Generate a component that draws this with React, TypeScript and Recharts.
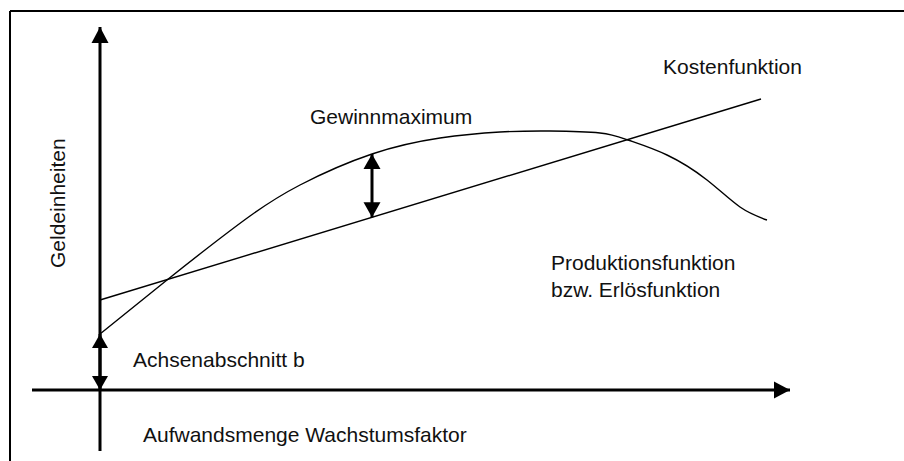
import { LineChart, Line, XAxis, YAxis, ReferenceLine, ReferenceDot } from 'recharts'

// Aufwandsmenge (x) and Geldeinheiten (y)
const menge = [0, 0.67, 1.05, 1.5, 2.0, 2.72, 3.4, 4.0, 4.5, 5.0, 5.28, 5.67, 6.07, 6.4, 6.67]
const erloes = [1.12, 2.2, 2.8, 3.48, 4.1, 4.72, 5.04, 5.16, 5.18, 5.14, 5.0, 4.7, 4.2, 3.66, 3.4]
const kostenMenge = [0, 6.61]
const kosten = [1.8, 5.82]

const xAxisRange = [-0.68, 6.9]
const yAxisRange = [-1.22, 7.26]
const gewinnIndex = 5

const labels = [
  { text: 'Kostenfunktion', x: 5.63, y: 6.32 },
  { text: 'Gewinnmaximum', x: 2.1, y: 5.32 },
  { text: 'Produktionsfunktion', x: 4.51, y: 2.4 },
  { text: 'bzw. Erlösfunktion', x: 4.51, y: 1.86 },
  { text: 'Achsenabschnitt b', x: 0.33, y: 0.46 },
  { text: 'Aufwandsmenge Wachstumsfaktor', x: 0.43, y: -1.04 },
  { text: 'Geldeinheiten', x: -0.35, y: 2.44, rotate: true }
]

const X_DOMAIN = [-1, 8.04]
const Y_DOMAIN = [-1.42, 7.8]
const FONT = '"Liberation Sans", Arial, sans-serif'

const erloesData = menge.map((x, i) => ({ x, y: erloes[i] }))
const kostenData = kostenMenge.map((x, i) => ({ x, y: kosten[i] }))

const kostenAt = (x: number) =>
  kosten[0] + ((kosten[1] - kosten[0]) * (x - kostenMenge[0])) / (kostenMenge[1] - kostenMenge[0])

function head(xt: number, yt: number, xf: number, yf: number, len: number, half: number) {
  const dx = xt - xf
  const dy = yt - yf
  const d = Math.hypot(dx, dy) || 1
  const ux = dx / d
  const uy = dy / d
  const bx = xt - ux * len
  const by = yt - uy * len
  return `${xt},${yt} ${bx - uy * half},${by + ux * half} ${bx + uy * half},${by - ux * half}`
}

function Arrow(props: any) {
  const { x1, y1, x2, y2, both, len = 16, half = 8.5, width = 3 } = props
  return (
    <g>
      <line x1={x1} y1={y1} x2={x2} y2={y2} stroke="#000" strokeWidth={width} />
      <polygon points={head(x2, y2, x1, y1, len, half)} fill="#000" />
      {both && <polygon points={head(x1, y1, x2, y2, len, half)} fill="#000" />}
    </g>
  )
}

function Frame(props: any) {
  const { x1, y1, x2, y2 } = props
  return <line x1={x1} y1={y1} x2={x2} y2={y2} stroke="#000" strokeWidth={2} />
}

export default function App() {
  const gx = menge[gewinnIndex]
  return (
    <div style={{ position: 'absolute', left: 0, top: 0, width: 904, height: 461, background: '#fff' }}>
      <LineChart width={904} height={461} margin={{ top: 0, right: 0, bottom: 0, left: 0 }}>
        <XAxis type="number" dataKey="x" domain={X_DOMAIN} allowDataOverflow hide />
        <YAxis type="number" dataKey="y" domain={Y_DOMAIN} allowDataOverflow hide />

        {/* frame */}
        <ReferenceLine
          ifOverflow="visible"
          segment={[{ x: X_DOMAIN[0] + 0.1, y: Y_DOMAIN[1] - 0.22 }, { x: X_DOMAIN[1], y: Y_DOMAIN[1] - 0.22 }]}
          shape={(p: any) => <Frame {...p} />}
        />
        <ReferenceLine
          ifOverflow="visible"
          segment={[{ x: X_DOMAIN[0] + 0.1, y: Y_DOMAIN[1] - 0.22 }, { x: X_DOMAIN[0] + 0.1, y: Y_DOMAIN[0] }]}
          shape={(p: any) => <Frame {...p} />}
        />

        {/* axes */}
        <ReferenceLine
          ifOverflow="visible"
          segment={[{ x: 0, y: yAxisRange[0] }, { x: 0, y: yAxisRange[1] }]}
          shape={(p: any) => <Arrow {...p} />}
        />
        <ReferenceLine
          ifOverflow="visible"
          segment={[{ x: xAxisRange[0], y: 0 }, { x: xAxisRange[1], y: 0 }]}
          shape={(p: any) => <Arrow {...p} />}
        />

        <Line
          data={kostenData}
          dataKey="y"
          type="linear"
          stroke="#000"
          strokeWidth={1.4}
          dot={false}
          activeDot={false}
          isAnimationActive={false}
        />
        <Line
          data={erloesData}
          dataKey="y"
          type="natural"
          stroke="#000"
          strokeWidth={1.4}
          dot={false}
          activeDot={false}
          isAnimationActive={false}
        />

        {/* Gewinnmaximum */}
        <ReferenceLine
          ifOverflow="visible"
          segment={[{ x: gx, y: kostenAt(gx) }, { x: gx, y: erloes[gewinnIndex] }]}
          shape={(p: any) => <Arrow {...p} both len={15} half={8.5} />}
        />
        {/* Achsenabschnitt b */}
        <ReferenceLine
          ifOverflow="visible"
          segment={[{ x: 0, y: 0 }, { x: 0, y: erloes[0] }]}
          shape={(p: any) => <Arrow {...p} both len={14} half={8} />}
        />

        {labels.map((l) => (
          <ReferenceDot
            key={l.text}
            x={l.x}
            y={l.y}
            r={0}
            ifOverflow="visible"
            shape={(p: any) => (
              <text
                x={p.cx}
                y={p.cy}
                fontSize={21}
                fontFamily={FONT}
                fill="#111"
                transform={l.rotate ? `rotate(-90 ${p.cx} ${p.cy})` : undefined}
              >
                {l.text}
              </text>
            )}
          />
        ))}
      </LineChart>
    </div>
  )
}
